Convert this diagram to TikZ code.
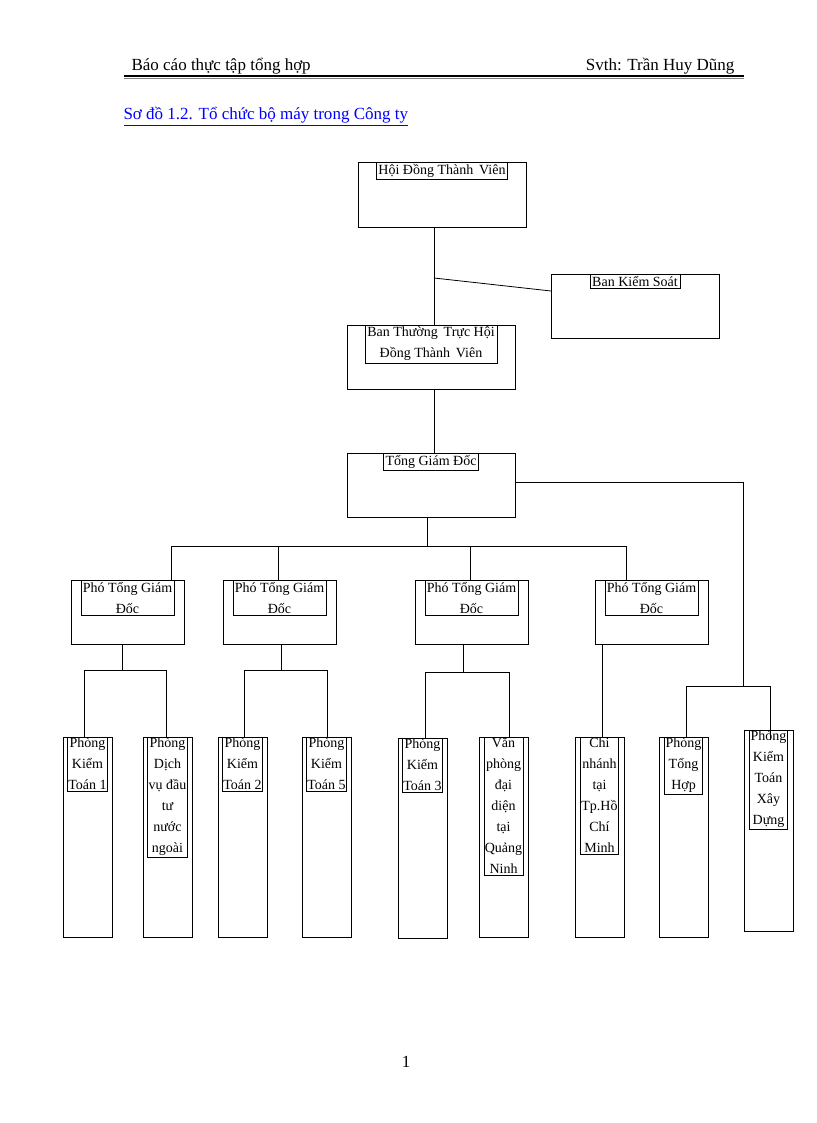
\documentclass[tikz,border=0pt]{standalone}
\usepackage{fontspec}
\setmainfont{Liberation Serif}
\usetikzlibrary{positioning}
\tikzset{
  box/.style={draw, inner sep=2pt, align=center, font=\fontsize{14}{21}\selectfont},
  col/.style={draw, inner sep=1pt, align=center, font=\fontsize{14}{21}\selectfont},
  link/.style={line width=0.8pt},
}
\begin{document}
\begin{tikzpicture}[x=1pt,y=-1pt]
    \useasboundingbox (0,0) rectangle (816,1123);
    % header
    \node[anchor=base west, font=\fontsize{17}{20}\selectfont] (hl) at (128,71) {Báo cáo thực tập tổng hợp};
    \node[anchor=base east, font=\fontsize{17}{20}\selectfont] (hr) at (738,71) {Svth: Trần Huy Dũng};
    \draw[line width=1.6pt] (124,76) -- (744,76);
    \draw[line width=1pt, gray] (124,78.5) -- (744,78.5);
    \node[anchor=base west, text=blue, font=\fontsize{17}{20}\selectfont] (title) at (120,120) {\underline{Sơ đồ 1.2. Tổ chức bộ máy trong Công ty}};

    % top levels
    \draw (358,162) rectangle (526,227);
    \node[box, anchor=north] (hdtv) at (442,162) {Hội Đồng Thành\, Viên};
    \draw (551,274) rectangle (719,338);
    \node[box, anchor=north] (bks) at (635,274) {Ban Kiểm Soát};
    \draw (347,325) rectangle (515,389);
    \node[box, anchor=north] (btt) at (431,325) {Ban Thường\, Trực Hội\\Đồng Thành\, Viên};
    \draw (347,453) rectangle (515,517);
    \node[box, anchor=north] (tgd) at (431,453) {Tổng Giám Đốc};
    \coordinate (hdtvb) at (434,227);
    \coordinate (bttt) at (434,325);
    \coordinate (bttb) at (434,389);
    \coordinate (tgdt) at (434,453);
    \coordinate (tgdb) at (427,517);
    \coordinate (tgdr) at (515,482);
    \draw[link] (hdtvb) -- (bttt);
    \draw[link] (434,278) -- (551,291);
    \draw[link] (bttb) -- (tgdt);

    % deputies
    \foreach \n/\x in {p1/71, p2/223, p3/415, p4/595} {
        \draw (\x,580) rectangle ({\x+113},644);
        \node[box, anchor=north] (\n) at ({\x+56.5},580) {Phó Tổng Giám\\Đốc};
    }
    \draw[link] (tgdb) -- (427,546);
    \draw[link] (171,546) -- (626,546);
    \foreach \x in {171,278,470,626} \draw[link] (\x,546) -- (\x,580);

    % departments
    \foreach \n/\x/\t/\b/\txt in {
        d1/63/737/937/{Phòng\\Kiểm\\Toán 1},
        d2/143/737/937/{Phòng\\Dịch\\vụ đầu\\tư\\nước\\ngoài},
        d3/218/737/937/{Phòng\\Kiểm\\Toán 2},
        d4/302/737/937/{Phòng\\Kiểm\\Toán 5},
        d5/398/738/938/{Phòng\\Kiểm\\Toán 3},
        d6/479/737/937/{Văn\\phòng\\đại\\diện\\tại\\Quảng\\Ninh},
        d7/575/737/937/{Chi\\nhánh\\tại\\Tp.Hồ\\Chí\\Minh},
        d8/659/737/937/{Phòng\\Tổng\\Hợp},
        d9/744/730/931/{Phòng\\Kiểm\\Toán\\Xây\\Dựng}} {
        \draw (\x,\t) rectangle ({\x+49},\b);
        \node[col, anchor=north] (\n) at ({\x+24.5},\t) {\txt};
    }
    \draw[link] (122,644) -- (122,670);
    \draw[link] (84,670) -- (166,670);
    \draw[link] (84,670) -- (84,737);
    \draw[link] (166,670) -- (166,737);
    \draw[link] (281,644) -- (281,670);
    \draw[link] (244,670) -- (327,670);
    \draw[link] (244,670) -- (244,737);
    \draw[link] (327,670) -- (327,737);
    \draw[link] (463,644) -- (463,672);
    \draw[link] (425,672) -- (509,672);
    \draw[link] (425,672) -- (425,738);
    \draw[link] (509,672) -- (509,737);
    \draw[link] (602,644) -- (602,737);
    \draw[link] (tgdr) -- (743,482) -- (743,686);
    \draw[link] (686,686) -- (770,686);
    \draw[link] (686,686) -- (686,737);
    \draw[link] (770,686) -- (770,740);

    \node[font=\fontsize{17}{20}\selectfont] (page) at (406,1062) {1};
\end{tikzpicture}
\end{document}
